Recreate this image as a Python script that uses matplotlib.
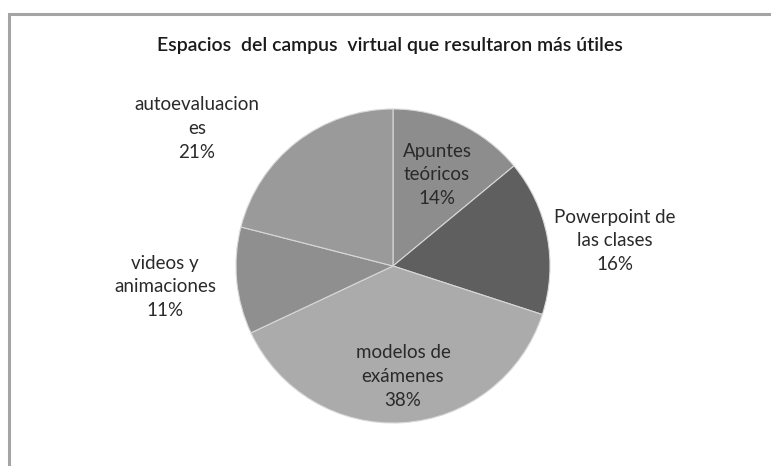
import matplotlib

matplotlib.use("Agg")
import matplotlib.pyplot as plt
from matplotlib.patches import Rectangle

W, H = 771, 466

TITLE = "Espacios  del campus  virtual que resultaron más útiles"
CATEGORIES = [
    "Apuntes\nteóricos",
    "Powerpoint de\nlas clases",
    "modelos de\nexámenes",
    "videos y\nanimaciones",
    "autoevaluacion\nes",
]
SHARES = [14, 16, 38, 11, 21]
SLICE_COLORS = ["#8d8d8d", "#5f5f5f", "#ababab", "#8f8f8f", "#9a9a9a"]
# label anchor points in pixel space (x, y from top)
LABEL_POS = [(437, 175), (615, 241), (403, 376), (165, 287), (197, 128)]

plt.rcParams["font.family"] = ["Lato", "DejaVu Sans"]

fig = plt.figure(figsize=(W / 100, H / 100), dpi=100)
ax = fig.add_axes([0, 0, 1, 1])

# chart frame, cut off by the right and bottom edges
ax.add_patch(Rectangle((9, -10), W + 20, H - 14 + 10, facecolor="white",
                       edgecolor="#a4a4a4", linewidth=2.2))

ax.pie(SHARES, colors=SLICE_COLORS, startangle=90, counterclock=False,
       center=(393, H - 266), radius=157,
       wedgeprops=dict(edgecolor="#d8d8d8", linewidth=0.8))

# pie() resets the limits, so fix the pixel-space view afterwards
ax.set_xlim(0, W)
ax.set_ylim(0, H)
ax.set_aspect("equal")
ax.axis("off")

ax.text(390, H - 46, TITLE, ha="center", va="center", fontsize=14,
        fontweight="semibold", color="#1a1a1a")

for name, share, (x, y) in zip(CATEGORIES, SHARES, LABEL_POS):
    ax.text(x, H - y, f"{name}\n{share}%", ha="center", va="center",
            fontsize=13.5, color="#2a2a2a", linespacing=1.5)

fig.savefig("out.png", dpi=100)
